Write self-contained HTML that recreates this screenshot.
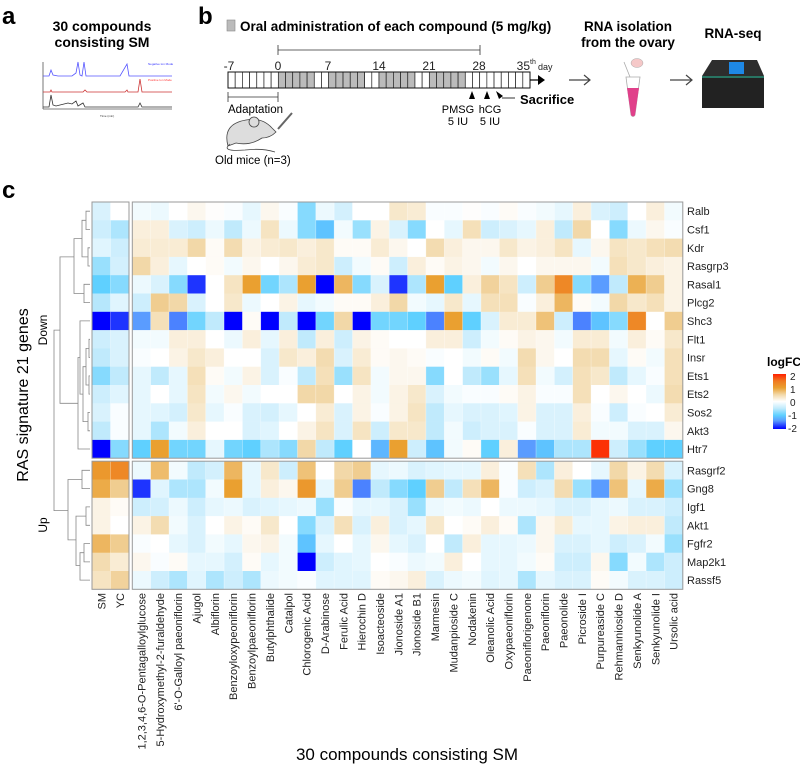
<!DOCTYPE html>
<html><head><meta charset="utf-8">
<style>
html,body{margin:0;padding:0;background:#fff;}
body{width:800px;height:765px;overflow:hidden;position:relative;font-family:"Liberation Sans",Arial,sans-serif;}
svg text{font-family:"Liberation Sans",Arial,sans-serif;}
</style></head>
<body>
<svg id="fig" width="800" height="765" viewBox="0 0 800 765" xmlns="http://www.w3.org/2000/svg">
<defs>
<linearGradient id="lg" x1="0" y1="1" x2="0" y2="0">
<stop offset="0" stop-color="#0000ff"/><stop offset="0.15" stop-color="#5a9cff"/><stop offset="0.25" stop-color="#5fd0ff"/><stop offset="0.375" stop-color="#c0eafc"/><stop offset="0.5" stop-color="#ffffff"/><stop offset="0.625" stop-color="#f2d8a8"/><stop offset="0.75" stop-color="#eaa030"/><stop offset="0.875" stop-color="#f07820"/><stop offset="1" stop-color="#ff2000"/>
</linearGradient>
</defs>
<g>
<text x="2" y="24" font-size="24" font-weight="bold">a</text>
<text x="102" y="31" font-size="14" font-weight="bold" text-anchor="middle">30 compounds</text>
<text x="102" y="47" font-size="14" font-weight="bold" text-anchor="middle">consisting SM</text>
<g fill="none" stroke-width="0.8">
<line x1="43" y1="62" x2="43" y2="109" stroke="#555"/>
<line x1="43" y1="109" x2="172" y2="109" stroke="#555"/>
<polyline stroke="#5555ff" points="43,76 49,76 51,70 53,75 58,76 72,76 76,73 78,62 80,75 82,76 84,62 86,76 120,76 127,64 129,76 172,76"/>
<polyline stroke="#cc3333" points="43,92 50,92 51,90 52,92 83,92 85,90 87,92 125,92 127,90 128,92 138,92 140,79 142,92 172,92"/>
<polyline stroke="#333" points="43,107 49,107 51,95 53,105 56,106 68,103 72,104 76,101 78,106 83,103 85,107 138,107 140,103 142,107 172,107"/>
<text x="148" y="65" font-size="3" fill="#3333ff">Negative Ion Mode</text>
<text x="148" y="81" font-size="3" fill="#ff3333">Positive Ion Mode</text>
<text x="100" y="117" font-size="3" fill="#333">Time (min)</text>
</g>
</g>
<g>
<text x="198" y="24" font-size="24" font-weight="bold">b</text>
<rect x="227" y="20" width="8" height="11" fill="#bbb" stroke="#888" stroke-width="0.6"/>
<text x="240" y="31" font-size="13.5" font-weight="bold">Oral administration of each compound (5 mg/kg)</text>
<path d="M278,45 V55 M278,50 H480 M480,45 V55" stroke="#333" stroke-width="0.8" fill="none"/>
<g id="timeline"></g>
<g font-size="12" fill="#222" text-anchor="middle">
<text x="229" y="70">-7</text><text x="278" y="70">0</text><text x="328" y="70">7</text><text x="379" y="70">14</text><text x="429" y="70">21</text><text x="479" y="70">28</text>
<text x="530" y="70" text-anchor="end">35</text><text x="530" y="64" font-size="7" text-anchor="start">th</text><text x="538" y="70" font-size="9" text-anchor="start">day</text>
</g>
<path d="M530,80 H540" stroke="#000" stroke-width="1.2"/><polygon points="538,75 545,80 538,85" fill="#000"/>
<polygon points="472,91 469,99 475,99" fill="#000"/><polygon points="487,91 484,99 490,99" fill="#000"/>
<polygon points="496,91 503,96 499,99" fill="#000"/><path d="M502,98 H515" stroke="#000" stroke-width="0.8"/>
<text x="520" y="104" font-size="13" font-weight="bold">Sacrifice</text>
<text x="458" y="113" font-size="11" text-anchor="middle">PMSG</text><text x="458" y="125" font-size="11" text-anchor="middle">5 IU</text>
<text x="490" y="113" font-size="11" text-anchor="middle">hCG</text><text x="490" y="125" font-size="11" text-anchor="middle">5 IU</text>
<path d="M228,92 V102 M228,97 H278 M278,92 V102" stroke="#333" stroke-width="0.8" fill="none"/>
<text x="228" y="113" font-size="11.5">Adaptation</text>
<g fill="#ddd" stroke="#444" stroke-width="0.8">
<path d="M228,146 Q222,124 246,120 Q262,117 272,128 L276,132 Q270,138 262,138 Q250,146 236,143 Z"/>
<circle cx="254" cy="122" r="5"/>
<path d="M230,144 Q220,152 245,150 Q262,148 275,152" fill="none"/>
<path d="M278,129 L292,113" stroke="#666" stroke-width="2"/>
</g>
<text x="215" y="164" font-size="11.5">Old mice (n=3)</text>
<path d="M569,80 H590 M584,75 L590,80 L584,85" stroke="#444" stroke-width="1.2" fill="none"/>
<path d="M670,80 H692 M686,75 L692,80 L686,85" stroke="#444" stroke-width="1.2" fill="none"/>
<text x="628" y="31" font-size="13.5" font-weight="bold" text-anchor="middle">RNA isolation</text>
<text x="628" y="47" font-size="13.5" font-weight="bold" text-anchor="middle">from the ovary</text>
<g>
<path d="M626,77 H640 L635,115 Q633,118 631,115 Z" fill="#fff" stroke="#aaa" stroke-width="0.8"/>
<path d="M627,88 H639 L635,115 Q633,118 631,115 Z" fill="#e0408a"/>
<ellipse cx="637" cy="63" rx="6" ry="4.5" fill="#f5c8c8" stroke="#aaa" stroke-width="0.5"/>
<path d="M624,62 L630,77" stroke="#aaa" stroke-width="0.8"/>
</g>
<text x="733" y="38" font-size="13.5" font-weight="bold" text-anchor="middle">RNA-seq</text>
<g>
<rect x="702" y="76" width="62" height="32" fill="#222"/>
<path d="M712,60 H757 L764,76 H702 Z" fill="#2d2d2d"/>
<rect x="729" y="62" width="15" height="12" fill="#1e88e5"/>
<line x1="702" y1="77" x2="764" y2="77" stroke="#3fc" stroke-width="0.8"/>
</g>
</g>
<text x="2" y="198" font-size="24" font-weight="bold">c</text>
<g id="heat"></g>
<g>
<text x="767" y="366" font-size="12" font-weight="bold">logFC</text>
<rect x="773" y="374" width="13" height="55" fill="url(#lg)"/>
<g font-size="10" fill="#222">
<text x="790" y="380">2</text><text x="790" y="393">1</text><text x="790" y="406">0</text><text x="788" y="419">-1</text><text x="788" y="432">-2</text>
</g>
</g>
<text transform="translate(28,395) rotate(-90)" font-size="16" text-anchor="middle">RAS signature 21 genes</text>
<text transform="translate(47,330) rotate(-90)" font-size="12" text-anchor="middle">Down</text>
<text transform="translate(47,525) rotate(-90)" font-size="12" text-anchor="middle">Up</text>
<text x="407" y="760" font-size="17" text-anchor="middle">30 compounds consisting SM</text>
</svg>
<script>
const genes=["Ralb","Csf1","Kdr","Rasgrp3","Rasal1","Plcg2","Shc3","Flt1","Insr","Ets1","Ets2","Sos2","Akt3","Htr7","Rasgrf2","Gng8","Igf1","Akt1","Fgfr2","Map2k1","Rassf5"];
const refCols=["SM","YC"];
const compounds=["1,2,3,4,6-O-Pentagalloylglucose","5-Hydroxymethyl-2-furaldehyde","6'-O-Galloyl paeoniflorin","Ajugol","Albiflorin","Benzoyloxypeoniflorin","Benzoylpaeoniflorin","Butylphthalide","Catalpol","Chlorogenic Acid","D-Arabinose","Ferulic Acid","Hierochin D","Isoacteoside","Jionoside A1","Jionoside B1","Marmesin","Mudanpioside C","Nodakenin","Oleanolic Acid","Oxypaeoniflorin","Paeoniflorigenone","Paeoniflorin","Paeonolide","Picroside I","Purpureaside C","Rehmannioside D","Senkyunolide A","Senkyunolide I","Ursolic acid"];
const vRalb=[-0.3,0,-0.1,-0.15,0,0.1,0.02,-0.05,-0.2,0.1,-0.05,-0.8,-0.15,-0.35,0,0,0.3,0.25,-0.05,-0.05,0.02,-0.05,0.05,-0.05,-0.1,-0.2,0.2,-0.3,-0.4,0,0.2,-0.1];
const vCsf1=[-0.4,-0.6,0.2,0.2,-0.3,-0.4,-0.15,-0.5,-0.15,0.35,-0.15,-0.8,-1.1,-0.1,-0.7,0.15,-0.3,-0.8,0,-0.2,0.4,-0.4,-0.3,-0.2,0.2,-0.5,0.5,0,-0.8,-0.15,0.1,-0.05];
const vKdr=[-0.25,-0.4,0.25,0.25,0.25,0.5,0.05,0.45,0.15,0.25,0.3,0.2,0.3,0.05,0.05,0.25,0.1,0,0.45,0.2,0.1,0.1,0.3,0.15,0.2,0.35,-0.2,0.1,0.35,0.3,0.4,0.45];
const vRasgrp3=[-0.7,-0.35,0.5,0.2,-0.2,0,0.05,-0.1,0.1,0,0.1,0.25,0.3,-0.4,-0.1,0.05,-0.4,0.2,0.05,0.15,0.1,-0.1,0.1,0,0.1,0.1,0.1,-0.1,0.4,0.3,0.2,0.15];
const vRasal1=[-1.0,-0.8,-0.15,-0.3,-0.8,-1.8,0,0.35,1.0,-0.9,-0.6,1.0,-2.0,0.8,-0.8,-0.3,-1.8,-0.6,1.0,-1.0,0.2,0.55,0.35,-0.4,0.6,1.3,-0.8,-1.4,-0.5,0.85,0.6,0.15];
const vPlcg2=[-0.55,-0.25,-0.4,0.6,0.5,-0.3,0,0.3,-0.15,0,0.15,-0.2,-0.1,0.05,0.05,0.2,0.5,-0.1,-0.2,0.3,-0.2,0.4,0.4,-0.05,0.2,0.8,0.05,-0.1,0.5,0.3,0.4,0.15];
const vShc3=[-2,-1.8,-1.4,0.4,-1.5,-0.9,-0.5,-2,0.05,-2,-0.5,-2,-0.9,0.5,-2,-0.9,-0.9,-1.0,-1.5,1.0,-1.0,-0.3,0.25,0.25,0.7,-0.4,-1.5,-1.1,-0.8,1.3,0,0.6];
const vFlt1=[-0.4,-0.3,-0.1,-0.1,0.2,0.2,0,-0.15,0.2,-0.2,0.2,-0.5,0.2,-0.4,0.15,0.05,0,0,0.2,0.2,-0.4,-0.1,0.05,0.15,0.1,-0.1,0.25,0.25,-0.1,0.2,0.05,0.3];
const vInsr=[-0.5,-0.3,-0.05,0,0.15,0.3,0.2,0,0,-0.3,0.3,0.2,0.45,-0.3,0.25,0.05,0.1,0.05,-0.05,0,-0.1,0.05,-0.1,0.45,0.1,0,0.45,0.45,-0.2,0.05,-0.1,0.4];
const vEts1=[-0.8,-0.5,-0.2,-0.5,-0.2,0.4,0.05,-0.1,0.15,-0.3,-0.05,-0.5,0.4,-0.7,0.35,-0.1,0.1,0.1,-0.8,0,-0.5,-0.7,-0.2,0.4,-0.1,-0.35,0.4,0.3,-0.5,-0.2,-0.05,0.4];
const vEts2=[-0.4,-0.25,-0.2,0,-0.2,0.35,-0.1,0.1,-0.1,0,0,0.5,0.5,0,0.15,-0.1,0.15,0.3,-0.3,-0.1,-0.05,-0.05,0.05,0.15,-0.05,-0.05,0.4,0,0.1,0,-0.15,0.45];
const vSos2=[-0.3,-0.05,-0.2,-0.25,-0.35,0.3,-0.2,-0.05,-0.3,-0.35,-0.2,0,0.25,-0.3,0.15,-0.05,0.15,0.35,-0.5,-0.2,-0.3,-0.3,-0.25,0.15,-0.3,-0.3,0.2,-0.05,-0.4,-0.05,0,0.25];
const vAkt3=[-0.5,-0.05,-0.2,-0.6,-0.1,0.2,0,0,-0.3,-0.25,0,0.15,0.35,-0.3,0.35,-0.4,0.3,0.3,-0.5,-0.1,-0.4,-0.3,-0.3,-0.05,-0.3,-0.3,0.25,-0.1,-0.1,-0.3,-0.3,0.1];
const vHtr7=[-2,-0.8,-1.0,1.0,-0.9,-0.9,-0.2,-0.9,-1.0,-0.6,-0.8,0.5,-0.5,-1.0,0,-1.2,1.0,-0.4,-1.1,-0.1,0.05,-1.0,0.2,-1.4,-1.1,-0.6,-0.6,1.9,-0.4,-0.7,-1.0,-1.0];
const vRasgrf2=[1.1,1.3,-0.15,0.75,-0.1,-0.5,-0.35,0.8,-0.2,0.3,-0.4,0.7,0,0.5,0.6,-0.2,-0.15,-0.3,-0.25,-0.2,-0.2,0.2,-0.05,0.4,-0.6,0.2,0,-0.2,0.5,0.15,0.45,-0.3];
const vGng8=[0.9,0.6,-1.8,-0.25,-0.6,-0.6,-0.1,1.0,-0.2,0.2,0.1,1.1,-0.2,0.6,-1.5,-0.5,-0.8,-1.0,0.6,-0.5,0.4,0.8,-0.05,-0.4,-0.3,0.45,-0.7,-1.4,0.7,-0.2,0.9,-0.7];
const vIgf1=[0.15,0.05,-0.4,-0.35,-0.15,-0.4,-0.2,-0.15,-0.3,-0.25,-0.2,-0.15,-0.7,-0.05,-0.2,-0.2,-0.3,-0.7,-0.15,-0.1,-0.15,0,-0.15,-0.15,-0.2,-0.3,-0.3,-0.2,-0.15,-0.3,-0.3,-0.4];
const vAkt1=[0.15,0,0.15,0.45,-0.1,-0.3,0,0.15,0.05,0.3,0,-0.8,-0.3,0.4,-0.3,0.2,-0.3,-0.2,0.3,0,0.05,0.2,0.05,-0.6,0.1,0.25,-0.2,-0.2,0.15,0.2,0.2,-0.5];
const vFgfr2=[0.8,0.6,-0.05,0,-0.2,-0.3,-0.1,-0.2,0.1,0.15,-0.1,-1.1,-0.2,0,-0.2,0.1,-0.2,-0.3,0,-0.5,0.2,-0.2,-0.2,-0.15,0.1,-0.3,-0.3,-0.2,-0.4,-0.3,-0.1,-0.7];
const vMap2k1=[0.45,0.25,0.1,-0.05,0.05,-0.2,-0.2,-0.35,0.05,-0.2,-0.1,-2,-0.4,-0.25,-0.2,0,-0.05,-0.15,-0.1,0.2,0,-0.2,-0.2,-0.1,0.05,-0.4,-0.4,0.1,-0.8,-0.1,-0.6,-0.4];
const vRassf5=[0.35,0.55,-0.15,-0.4,-0.6,-0.25,-0.6,-0.4,-0.6,-0.15,-0.1,-0.05,-0.25,-0.25,-0.25,0.05,0.1,0.2,-0.3,-0.15,-0.1,-0.25,-0.2,-0.6,-0.2,-0.3,-0.3,0.05,-0.1,-0.3,-0.3,-0.4];
const values=[vRalb,vCsf1,vKdr,vRasgrp3,vRasal1,vPlcg2,vShc3,vFlt1,vInsr,vEts1,vEts2,vSos2,vAkt3,vHtr7,vRasgrf2,vGng8,vIgf1,vAkt1,vFgfr2,vMap2k1,vRassf5];
const downCount=14;

const NS="http://www.w3.org/2000/svg";
function mk(tag,attrs,parent){const e=document.createElementNS(NS,tag);for(const k in attrs)e.setAttribute(k,attrs[k]);parent.appendChild(e);return e;}
const top0=202, rowH=18.3, gapY=3;
function yPos(r){return top0+r*rowH+(r>=downCount?gapY:0);}
const refX0=92, refW=18.5, cmpX0=132.3, cmpW=18.35;
function xPos(c){return c<2?refX0+c*refW:cmpX0+(c-2)*cmpW;}
function cW(c){return c<2?refW:cmpW;}
const stops=[[-2,[0,0,255]],[-1.4,[90,156,255]],[-1,[95,208,255]],[-0.5,[192,234,252]],[0,[255,255,255]],[0.5,[242,216,168]],[1,[234,160,48]],[1.5,[240,120,32]],[2,[255,32,0]]];
function color(v){v=Math.max(-2,Math.min(2,v));for(let i=0;i<stops.length-1;i++){const a=stops[i],b=stops[i+1];if(v>=a[0]&&v<=b[0]){const t=(v-a[0])/(b[0]-a[0]);const c=a[1].map((x,j)=>Math.round(x+(b[1][j]-x)*t));return `rgb(${c[0]},${c[1]},${c[2]})`;}}return "#fff";}

const heat=document.getElementById('heat');
values.forEach((row,r)=>{row.forEach((v,c)=>{
  const rect=mk('rect',{x:xPos(c).toFixed(2),y:yPos(r).toFixed(2),width:(cW(c)+0.3).toFixed(2),height:(rowH+0.3).toFixed(2),fill:color(v)},heat);
  
  
});});
for(let c=0;c<32;c++){mk('line',{x1:xPos(c),x2:xPos(c),y1:top0,y2:yPos(21),stroke:'rgba(255,255,255,0.5)','stroke-width':0.6},heat);}
const yDownEnd=yPos(downCount-1)+rowH, yUpStart=yPos(downCount), yEnd=yPos(20)+rowH;
[[refX0,refX0+2*refW],[cmpX0,cmpX0+30*cmpW]].forEach(([a,b])=>{
  mk('rect',{x:a,y:top0,width:b-a,height:yDownEnd-top0,fill:'none',stroke:'#999','stroke-width':1},heat);
  mk('rect',{x:a,y:yUpStart,width:b-a,height:yEnd-yUpStart,fill:'none',stroke:'#999','stroke-width':1},heat);
});
genes.forEach((g,r)=>{
  const t=mk('text',{x:687,y:(yPos(r)+rowH/2+4).toFixed(1),'font-size':11,fill:'#222'},heat);
  t.textContent=g;
  
  
});
refCols.concat(compounds).forEach((n,c)=>{
  const x=xPos(c)+cW(c)/2+4, y=593;
  const t=mk('text',{transform:`translate(${x.toFixed(1)},${y}) rotate(-90)`,'font-size':11,fill:'#222','text-anchor':'end'},heat);
  t.textContent=n;
  
  
});
const dg=mk('g',{stroke:'#888','stroke-width':0.8,fill:'none'},heat);


function yc(r){return yPos(r)+rowH/2;}
const segs=[
 [[90,yc(0)],[86,yc(0)],[86,yc(1)],[90,yc(1)]],
 [[90,yc(2)],[88,yc(2)],[88,yc(3)],[90,yc(3)]],
 [[86,(yc(0)+yc(1))/2],[82,(yc(0)+yc(1))/2],[82,(yc(2)+yc(3))/2],[88,(yc(2)+yc(3))/2]],
 [[90,yc(4)],[84,yc(4)],[84,yc(5)],[90,yc(5)]],
 [[82,(yc(1)+yc(2))/2],[74,(yc(1)+yc(2))/2],[74,(yc(4)+yc(5))/2],[84,(yc(4)+yc(5))/2]],
 [[90,yc(7)],[89,yc(7)],[89,yc(8)],[90,yc(8)]],
 [[90,yc(9)],[89,yc(9)],[89,yc(10)],[90,yc(10)]],
 [[89,(yc(7)+yc(8))/2],[86,(yc(7)+yc(8))/2],[86,(yc(9)+yc(10))/2],[89,(yc(9)+yc(10))/2]],
 [[90,yc(11)],[88,yc(11)],[88,yc(12)],[90,yc(12)]],
 [[86,yc(8.5)],[83,yc(8.5)],[83,yc(11.5)],[88,yc(11.5)]],
 [[90,yc(6)],[80,yc(6)],[80,yc(10)],[83,yc(10)]],
 [[90,yc(13)],[78,yc(13)],[78,yc(8)],[80,yc(8)]],
 [[74,yc(2.5)],[60,yc(2.5)],[60,yc(10.5)],[78,yc(10.5)]],
 [[90,yc(14)],[82,yc(14)],[82,yc(15)],[90,yc(15)]],
 [[90,yc(16)],[86,yc(16)],[86,yc(17)],[90,yc(17)]],
 [[90,yc(18)],[84,yc(18)],[84,yc(19)],[90,yc(19)]],
 [[84,yc(18.5)],[80,yc(18.5)],[80,yc(20)],[90,yc(20)]],
 [[86,yc(16.5)],[76,yc(16.5)],[76,yc(19.2)],[80,yc(19.2)]],
 [[82,yc(14.5)],[68,yc(14.5)],[68,yc(17.8)],[76,yc(17.8)]],
 [[60,yc(6.5)],[54,yc(6.5)],[54,yc(16.2)],[68,yc(16.2)]]
];
segs.forEach(s=>mk('polyline',{points:s.map(p=>p[0]+','+p[1].toFixed(1)).join(' ')},dg));

const tl=document.getElementById('timeline');
const tx0=228, dayW=(530-228)/42;
const shadedDays=[0,1,2,3,4,7,8,9,10,11,14,15,16,17,18,21,22,23,24,25];
for(let d=-7;d<35;d++){
  const sh=shadedDays.includes(d);
  mk('rect',{x:(tx0+(d+7)*dayW).toFixed(2),y:72,width:dayW.toFixed(2),height:16,fill:sh?'#bbb':'#fff',stroke:'#222','stroke-width':0.7},tl);
}
mk('rect',{x:tx0,y:72,width:302,height:16,fill:'none',stroke:'#111','stroke-width':1},tl);
</script>
</body></html>
